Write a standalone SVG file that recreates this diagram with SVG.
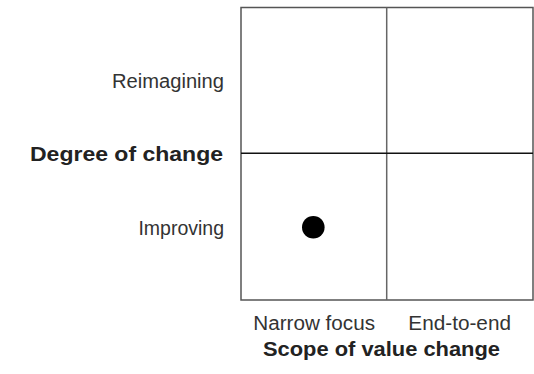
<svg xmlns="http://www.w3.org/2000/svg" width="534" height="374" viewBox="0 0 534 374">
<style>
.lbl{font-family:"Liberation Sans",Arial,sans-serif;font-size:19.5px;fill:#333}
.ttl{font-family:"Liberation Sans",Arial,sans-serif;font-size:20px;font-weight:bold;fill:#222}
.frame{fill:none;stroke:#555;stroke-width:1.5}
</style>
<rect width="534" height="374" fill="#fff"/>
<g id="grid">
<rect class="frame" x="241" y="7.5" width="292" height="292.5"/>
</g>
<g id="connectors">
<line x1="386.7" y1="7.5" x2="386.7" y2="300" stroke="#666" stroke-width="1.5"/>
<line x1="241" y1="153.3" x2="533" y2="153.3" stroke="#111" stroke-width="1.5"/>
</g>
<g id="dot"><circle cx="313.3" cy="227.3" r="11.3" fill="#000"/></g>
<g id="labels">
<text class="lbl" x="112" y="88.3" textLength="112" lengthAdjust="spacingAndGlyphs">Reimagining</text>
<text class="ttl" x="30" y="160.7" textLength="193" lengthAdjust="spacingAndGlyphs">Degree of change</text>
<text class="lbl" x="224" y="235" text-anchor="end">Improving</text>
<text class="lbl" x="253.3" y="330" textLength="121.7" lengthAdjust="spacingAndGlyphs">Narrow focus</text>
<text class="lbl" x="408.3" y="330" textLength="102.7" lengthAdjust="spacingAndGlyphs">End-to-end</text>
<text class="ttl" x="263" y="356" textLength="237" lengthAdjust="spacingAndGlyphs">Scope of value change</text>
</g>
</svg>
